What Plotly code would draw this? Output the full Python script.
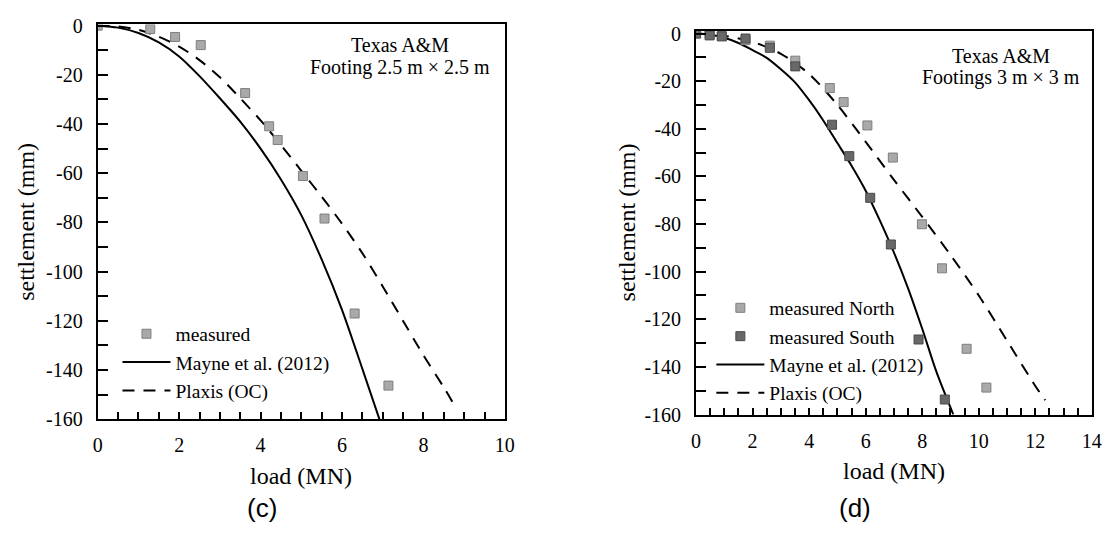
import plotly.graph_objects as go

W, H = 1113, 536

# ---------------- data: panel (c) ----------------
c_meas_load = [0, 1.29, 1.9, 2.53, 3.62, 4.21, 4.42, 5.04, 5.57, 6.31, 7.14]
c_meas_settle = [0, -1.4, -4.6, -7.9, -27.4, -40.9, -46.5, -61.1, -78.4, -117.0, -146.3]

c_mayne_load = [0, 0.5, 1, 1.5, 2, 2.5, 3, 3.5, 4, 4.5, 5, 5.5, 6, 6.5, 6.92]
c_mayne_settle = [0, -0.8, -3, -6.8, -12.5, -20.5, -29.5, -39, -50, -62.5, -77, -95, -115.5, -139.5, -160]

c_plaxis_load = [0, 0.5, 1, 1.5, 2, 2.5, 3, 3.5, 4, 4.5, 5, 5.5, 6, 6.5, 7, 7.5, 8, 8.5, 8.75]
c_plaxis_settle = [0, -0.3, -1.7, -4.5, -8.5, -14, -21, -29.5, -38.5, -48.5, -59, -69.5, -80.5, -92.5, -106, -120, -134, -147, -154]

# ---------------- data: panel (d) ----------------
d_north_load = [0, 0.48, 0.91, 1.75, 2.61, 3.51, 4.73, 5.22, 6.06, 6.96, 7.99, 8.70, 9.57, 10.27]
d_north_settle = [0, -0.4, -1.1, -2.8, -5.1, -11.4, -22.9, -28.8, -38.6, -52.1, -80.1, -98.6, -132.4, -148.7]

d_south_load = [0, 0.48, 0.91, 1.75, 2.61, 3.51, 4.81, 5.42, 6.16, 6.89, 7.87, 8.80]
d_south_settle = [0, -0.8, -1.2, -2.1, -6.0, -13.8, -38.3, -51.5, -69.0, -88.6, -128.5, -153.7]

d_mayne_load = [0, 0.5, 1, 1.5, 2, 2.5, 3, 3.5, 4, 4.5, 5, 5.5, 6, 6.5, 7, 7.5, 8, 8.5, 9.1]
d_mayne_settle = [0, -0.5, -1.8, -4, -7, -10.2, -15, -20.5, -28, -36.5, -46, -55.5, -66, -78.5, -92, -107, -124, -142, -160]

d_plaxis_load = [0, 1, 2, 3, 4, 5, 6, 7, 8, 9, 10, 11, 12, 12.35]
d_plaxis_settle = [0, -1, -3.5, -8.5, -17, -30, -45.5, -61.5, -77, -93, -110, -129, -148, -154]

# ---------------- tick labels ----------------
c_xticks = [0, 2, 4, 6, 8, 10]
c_xticktext = ["0", "2", "4", "6", "8", "10"]
d_xticks = [0, 2, 4, 6, 8, 10, 12, 14]
d_xticktext = ["0", "2", "4", "6", "8", "10", "12", "14"]
yticks = [0, -20, -40, -60, -80, -100, -120, -140, -160]
yticktext = ["0", "-20", "-40", "-60", "-80", "-100", "-120", "-140", "-160"]

SERIF = "Liberation Serif"
SANS = "Liberation Sans"
LIGHT_FILL, LIGHT_EDGE = "#a9a9a9", "#7f7f7f"
DARK_FILL, DARK_EDGE = "#686868", "#4a4a4a"
DASH = "12px,9px"
LINE_STYLE = dict(color="black", width=2, shape="spline", smoothing=0.8)

fig = go.Figure()

# panel (c)
fig.add_trace(go.Scatter(x=c_mayne_load, y=c_mayne_settle, mode="lines", name="Mayne et al. (2012)",
                         line=LINE_STYLE,
                         xaxis="x", yaxis="y", legend="legend", legendrank=2))
fig.add_trace(go.Scatter(x=c_plaxis_load, y=c_plaxis_settle, mode="lines", name="Plaxis (OC)",
                         line=dict(LINE_STYLE, dash=DASH),
                         xaxis="x", yaxis="y", legend="legend", legendrank=3))
fig.add_trace(go.Scatter(x=c_meas_load, y=c_meas_settle, mode="markers", name="measured",
                         marker=dict(symbol="square", size=9, color=LIGHT_FILL,
                                     line=dict(color=LIGHT_EDGE, width=1)),
                         xaxis="x", yaxis="y", legend="legend", legendrank=1))

# panel (d)
fig.add_trace(go.Scatter(x=d_mayne_load, y=d_mayne_settle, mode="lines", name="Mayne et al. (2012)",
                         line=LINE_STYLE,
                         xaxis="x2", yaxis="y2", legend="legend2", legendrank=3))
fig.add_trace(go.Scatter(x=d_plaxis_load, y=d_plaxis_settle, mode="lines", name="Plaxis (OC)",
                         line=dict(LINE_STYLE, dash=DASH),
                         xaxis="x2", yaxis="y2", legend="legend2", legendrank=4))
fig.add_trace(go.Scatter(x=d_north_load, y=d_north_settle, mode="markers", name="measured North",
                         marker=dict(symbol="square", size=9, color=LIGHT_FILL,
                                     line=dict(color=LIGHT_EDGE, width=1)),
                         xaxis="x2", yaxis="y2", legend="legend2", legendrank=1))
fig.add_trace(go.Scatter(x=d_south_load, y=d_south_settle, mode="markers", name="measured South",
                         marker=dict(symbol="square", size=9, color=DARK_FILL,
                                     line=dict(color=DARK_EDGE, width=1)),
                         xaxis="x2", yaxis="y2", legend="legend2", legendrank=2))


def px_x(p):
    return p / W


def px_y(p):
    return 1 - p / H


tickfont = dict(family=SERIF, size=20, color="black")
common_axis = dict(showline=True, mirror=True, linecolor="black", linewidth=2,
                   ticks="inside", tickcolor="black", tickwidth=1.5,
                   showgrid=False, zeroline=False, tickfont=tickfont, fixedrange=True)
xminor = dict(dtick=0.5, tick0=0, ticks="inside", ticklen=7, tickwidth=1.5, tickcolor="black")
yminor = dict(dtick=10, tick0=0, ticks="inside", ticklen=10, tickwidth=1.5, tickcolor="black")
legend_common = dict(xanchor="left", yanchor="top",
                     font=dict(family=SERIF, size=19.5, color="black"), bgcolor="rgba(0,0,0,0)",
                     borderwidth=0, itemwidth=48, tracegroupgap=0, traceorder="normal")

fig.update_layout(
    width=W, height=H, autosize=False,
    margin=dict(l=0, r=0, t=0, b=0, pad=0),
    paper_bgcolor="white", plot_bgcolor="white",
    xaxis=dict(domain=[px_x(94), px_x(506.7)], range=[0, 10], anchor="y",
               tickmode="array", tickvals=c_xticks, ticktext=c_xticktext, ticklen=7,
               ticklabelstandoff=7, minor=xminor, **common_axis),
    yaxis=dict(domain=[px_y(426), px_y(15)], range=[-160, 0.5], anchor="x",
               tickmode="array", tickvals=yticks, ticktext=yticktext, ticklen=10,
               ticklabelstandoff=9, minor=yminor, **common_axis),
    xaxis2=dict(domain=[px_x(700.5), px_x(1101.7)], range=[0, 14], anchor="y2",
                tickmode="array", tickvals=d_xticks, ticktext=d_xticktext, ticklen=7,
                ticklabelstandoff=7, minor=xminor, **common_axis),
    yaxis2=dict(domain=[px_y(421), px_y(21.5)], range=[-160, 1.2], anchor="x2",
                tickmode="array", tickvals=yticks, ticktext=yticktext, ticklen=10,
                ticklabelstandoff=9, minor=yminor, **common_axis),
    legend=dict(x=px_x(114), y=px_y(317), **legend_common),
    legend2=dict(x=px_x(716), y=px_y(290), **legend_common),
    showlegend=True,
)

annotations = [
    ("Texas A&M", 400, 36.4, SERIF, 20, 0),
    ("Footing 2.5 m × 2.5 m", 400, 60.1, SERIF, 20, 0),
    ("Texas A&M", 1010, 47.5, SERIF, 20, 0),
    ("Footings 3 m × 3 m", 1010, 69.8, SERIF, 20, 0),
    ("settlement (mm)", 21.8, 221, SERIF, 24, -90),
    ("settlement (mm)", 630.6, 221, SERIF, 24, -90),
    ("load (MN)", 300.5, 485, SERIF, 24, 0),
    ("load (MN)", 901, 479.3, SERIF, 24, 0),
    ("(c)", 260.8, 518, SANS, 26, 0),
    ("(d)", 861.8, 518.3, SANS, 26, 0),
]
for text, x, y, fam, size, ang in annotations:
    fig.add_annotation(text=text, x=px_x(x), y=px_y(y), xref="paper", yref="paper",
                       xanchor="center", yanchor="middle", showarrow=False, textangle=ang,
                       font=dict(family=fam, size=size, color="black"))

fig.write_html(
    "out.html",
    config={"displayModeBar": False},
    post_script="document.documentElement.style.margin='0';document.body.style.margin='0';"
                "document.body.style.overflow='hidden';document.documentElement.style.overflow='hidden';",
)
